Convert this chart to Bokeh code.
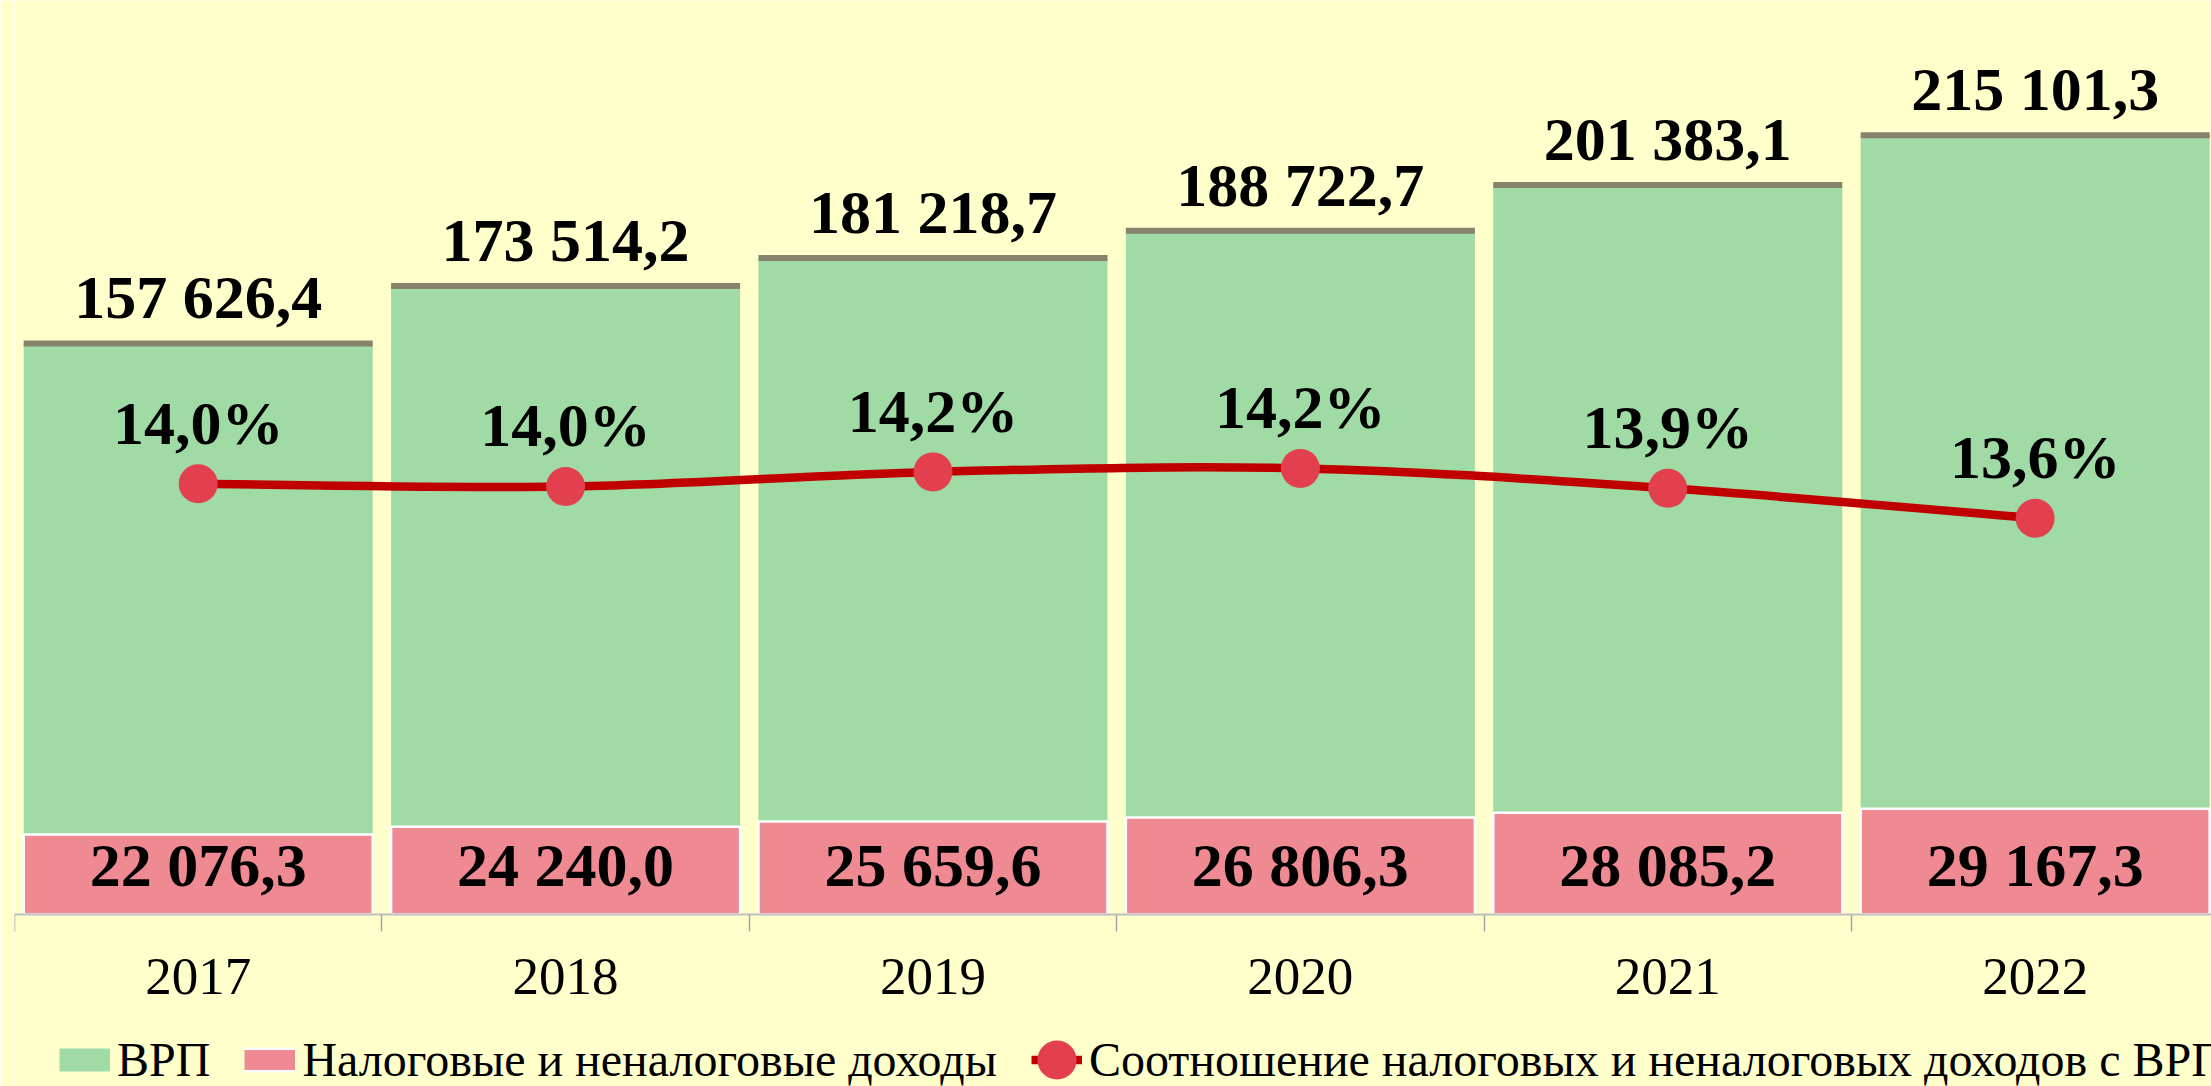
from bokeh.plotting import figure
from bokeh.models import Range1d, FixedTicker, Legend, LegendItem
from bokeh.core.properties import value
from bokeh.embed import file_html
from bokeh.resources import INLINE

# ---- data ----
years = ["2017", "2018", "2019", "2020", "2021", "2022"]
grp = [157626.4, 173514.2, 181218.7, 188722.7, 201383.1, 215101.3]          # ВРП
tax = [22076.3, 24240.0, 25659.6, 26806.3, 28085.2, 29167.3]                # Налоговые и неналоговые доходы
ratio = [14.005, 13.970, 14.159, 14.204, 13.946, 13.560]                    # Соотношение, %

SERIF = "Liberation Serif"
BG = "#FFFFCC"
GREEN = "#A0DAA5"
PINK = "#EF8A92"
TOPLINE = "#86836D"
RED = "#C00000"
MARK = "#E3404F"


def fmt(v):
    return f"{v:,.1f}".replace(",", " ").replace(".", ",")


n = len(years)
xc = [i + 0.5 for i in range(n)]

W, H = 2211, 1086
Y0, Y1 = -47481, 252310
p = figure(width=W, height=H, output_backend="svg", toolbar_location=None,
           x_range=Range1d(0, n - 0.02), y_range=Range1d(Y0, Y1),
           y_axis_location=None,
           min_border_left=14, min_border_right=0, min_border_top=0, min_border_bottom=0)
p.extra_y_ranges = {"pct": Range1d(6.208, 20.257)}
p.background_fill_color = BG
p.border_fill_color = BG
p.outline_line_color = None
p.xgrid.visible = False
p.ygrid.visible = False

# x axis at value 0: labels at centres, ticks at category boundaries
ax = p.xaxis[0]
ax.fixed_location = 0
ax.ticker = FixedTicker(ticks=xc, minor_ticks=list(range(n + 1)))
ax.major_label_overrides = {x: y for x, y in zip(xc, years)}
ax.major_tick_out = 17
ax.major_tick_in = 0
ax.major_tick_line_color = None
ax.minor_tick_out = 17
ax.minor_tick_in = 0
ax.minor_tick_line_color = "#A6A6A6"
ax.minor_tick_line_width = 1.5
ax.axis_line_color = "#BFBFBF"
ax.axis_line_width = 2
ax.major_label_text_font = SERIF
ax.major_label_text_font_size = "53px"
ax.major_label_text_color = "black"
ax.major_label_standoff = 28

# faint left edge of plot area
p.segment(x0=[0], y0=[0], x1=[0], y1=[Y1], line_color="white", line_alpha=0.8, line_width=1.5)

# bars
green = p.vbar(x=xc, top=grp, bottom=0, width=0.95, fill_color=GREEN, line_color=None)
p.rect(x=xc, y=grp, width=0.95, height=6, height_units="screen", fill_color=TOPLINE, line_color=None)
pink = p.vbar(x=xc, top=tax, bottom=0, width=0.95, fill_color=PINK, line_color="white", line_width=2.5)

lbl = dict(text_align="center", text_baseline="middle", text_font=value(SERIF),
           text_font_style="bold", text_font_size="62px", text_color="black")
p.text(x=xc, y=grp, text=[fmt(v) for v in grp], y_offset=-46, **lbl)
p.text(x=xc, y=[0] * n, text=[fmt(v) for v in tax], y_offset=-49, **lbl)

# smoothed ratio line (Bezier segments through the points)
P = list(zip(xc, ratio))
x0s, y0s, x1s, y1s, cx0, cy0, cx1, cy1 = ([] for _ in range(8))
for i in range(n - 1):
    pm = P[i - 1] if i > 0 else P[i]
    pa, pb = P[i], P[i + 1]
    pn = P[i + 2] if i + 2 < n else P[i + 1]
    x0s.append(pa[0]); y0s.append(pa[1]); x1s.append(pb[0]); y1s.append(pb[1])
    cx0.append(pa[0] + (pb[0] - pm[0]) / 6); cy0.append(pa[1] + (pb[1] - pm[1]) / 6)
    cx1.append(pb[0] - (pn[0] - pa[0]) / 6); cy1.append(pb[1] - (pn[1] - pa[1]) / 6)
p.bezier(x0=x0s, y0=y0s, x1=x1s, y1=y1s, cx0=cx0, cy0=cy0, cx1=cx1, cy1=cy1,
         line_color=RED, line_width=8.5, y_range_name="pct")
marks = p.ellipse(x=xc, y=ratio, width=39, height=39, width_units="screen", height_units="screen",
                  fill_color=MARK, line_color=None, y_range_name="pct")
p.text(x=xc, y=ratio, text=[fmt(v) + "%" for v in ratio], y_offset=-61, y_range_name="pct", **lbl)

# legend swatches: proxy lines lying left of the visible x range (never seen in the plot)
proxy_x = [-2, -1]
proxy_y = [0, 0]
lg_green = p.line(x=proxy_x, y=proxy_y, line_color=GREEN, line_width=23)
lg_white = p.line(x=proxy_x, y=proxy_y, line_color="white", line_width=25)
lg_pink = p.line(x=proxy_x, y=proxy_y, line_color=PINK, line_width=20)
lg_red = p.line(x=proxy_x, y=proxy_y, line_color=RED, line_width=8.5)

leg = Legend(items=[LegendItem(label="ВРП", renderers=[lg_green]),
                    LegendItem(label="Налоговые и неналоговые доходы", renderers=[lg_white, lg_pink]),
                    LegendItem(label="Соотношение налоговых и неналоговых доходов с ВРП",
                               renderers=[lg_red, marks])],
             orientation="horizontal", nrows=1, location=(45, -1), padding=0, margin=0,
             border_line_color=None, background_fill_alpha=0,
             glyph_width=51, glyph_height=49, label_standoff=7, spacing=34,
             label_text_font=SERIF, label_text_font_size="48px", label_text_color="black")
p.add_layout(leg)

open("out.html", "w").write(file_html(p, INLINE))
